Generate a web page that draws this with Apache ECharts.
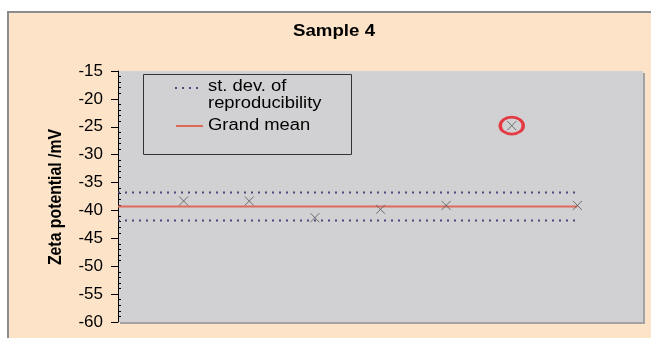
<!DOCTYPE html>
<html><head><meta charset="utf-8">
<script src="https://cdn.jsdelivr.net/npm/echarts@6/dist/echarts.min.js"></script>
<style>html,body{margin:0;padding:0;background:#fff}#c{width:651px;height:338px}</style>
</head><body><div id="c"></div>
<script>
// Data
const runs = [1, 2, 3, 4, 5, 6, 7];
const zeta = [-38.3, -38.3, -41.3, -39.8, -39.1, -24.8, -39.1];
const outlierIndex = 5;
const grandMean = -39.3;
const sdUpper = -36.8;
const sdLower = -41.8;
const lineSpan = [0, 7];
const yTicks = [-60, -15, 5];
const title = 'Sample 4';
const yName = 'Zeta potential /mV';
const legendLabels = ['st. dev. of\nreproducibility', 'Grand mean'];

const chart = echarts.init(document.getElementById('c'), null, {renderer: 'canvas'});
const hline = v => lineSpan.map(x => [x, v]);
const F = 'Liberation Sans, Arial, sans-serif';
const SD_COLOR = '#4a4a80';
const MEAN_COLOR = '#e06a5a';

chart.setOption({
  backgroundColor: '#ffffff',
  animation: false,
  graphic: [
    {type: 'rect', z: -10, shape: {x: 8, y: 12, width: 700, height: 400},
     style: {fill: '#fde4c9', stroke: '#8c8c8c', lineWidth: 2}},
    {type: 'text', x: 334, y: 31, scaleX: 1.1, z: 10,
     style: {text: title, font: 'bold 17px ' + F, fill: '#000', align: 'center', verticalAlign: 'middle'}},
    {type: 'text', z: 10, x: 56, y: 197, rotation: Math.PI / 2, scaleX: 0.93, scaleY: 1.12,
     style: {text: yName, font: 'bold 17px ' + F, fill: '#000', align: 'center', verticalAlign: 'middle'}},
    // legend box
    {type: 'rect', z: 20, shape: {x: 143.5, y: 74.5, width: 208, height: 80},
     style: {fill: '#d1d1d3', stroke: '#333', lineWidth: 1}},
    {type: 'line', z: 21, shape: {x1: 175, y1: 88, x2: 203, y2: 88},
     style: {stroke: SD_COLOR, lineWidth: 2, lineDash: [2, 5]}},
    {type: 'text', z: 21, x: 208, y: 78, scaleX: 1.15,
     style: {text: legendLabels[0], font: '16px ' + F, fill: '#000', lineHeight: 17}},
    {type: 'line', z: 21, shape: {x1: 176, y1: 126, x2: 203, y2: 126},
     style: {stroke: MEAN_COLOR, lineWidth: 2}},
    {type: 'text', z: 21, x: 208, y: 126, scaleX: 1.15,
     style: {text: legendLabels[1], font: '16px ' + F, fill: '#000', verticalAlign: 'middle'}}
  ],
  grid: {left: 118, top: 71, right: 8, bottom: 16, show: true,
         backgroundColor: '#d1d1d3', borderWidth: 0,
         shadowColor: '#a3a3a5', shadowOffsetX: 2, shadowOffsetY: 2, shadowBlur: 0},
  xAxis: {type: 'value', min: 0, max: 8, show: false},
  yAxis: {type: 'value', min: yTicks[0], max: yTicks[1], interval: yTicks[2],
    axisLine: {show: true, lineStyle: {color: '#000', width: 1}},
    axisTick: {show: true, length: 7, lineStyle: {color: '#000'}},
    minorTick: {show: true, splitNumber: 5, length: -3, lineStyle: {color: '#000'}},
    splitLine: {show: false},
    axisLabel: {color: '#000', fontSize: 17, fontFamily: F, margin: 15}
  },
  series: [
    {type: 'line', data: hline(sdUpper), symbol: 'none', silent: true,
     lineStyle: {color: SD_COLOR, width: 2, type: [2, 5]}},
    {type: 'line', data: hline(sdLower), symbol: 'none', silent: true,
     lineStyle: {color: SD_COLOR, width: 2, type: [2, 5]}},
    {type: 'line', data: hline(grandMean), symbol: 'none', silent: true,
     lineStyle: {color: MEAN_COLOR, width: 2}},
    {type: 'scatter', z: 5, data: runs.map((r, i) => [r, zeta[i]]),
     symbol: 'path://M0,0L10,10M10,0L0,10', symbolSize: 9,
     itemStyle: {color: 'none', borderColor: '#555', borderWidth: 1}},
    {type: 'scatter', z: 6, data: [[runs[outlierIndex], zeta[outlierIndex]]],
     symbol: 'circle', symbolSize: [23, 17],
     itemStyle: {color: 'rgba(0,0,0,0)', borderColor: '#e8141e', borderWidth: 3}}
  ]
});
</script></body></html>
